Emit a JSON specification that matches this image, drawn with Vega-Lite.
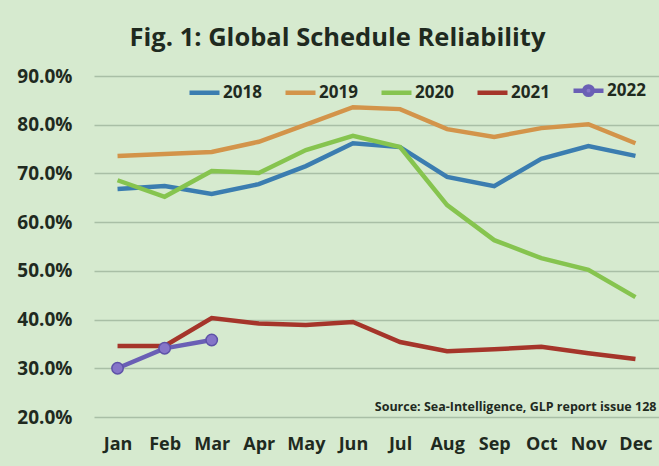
{
  "$schema": "https://vega.github.io/schema/vega-lite/v6.json",
  "width": 565,
  "height": 341,
  "autosize": "none",
  "padding": {"left": 94, "top": 76, "right": 0, "bottom": 49},
  "background": "#d6eacf",
  "title": {
    "text": "Fig. 1: Global Schedule Reliability",
    "font": "Open Sans",
    "fontSize": 25.5,
    "fontWeight": "bold",
    "color": "#1f2a1f",
    "anchor": "middle",
    "dx": -39,
    "offset": 16
  },
  "config": {
    "view": {"stroke": null},
    "font": "Open Sans"
  },
  "data": {
    "values": [
      {"month": "Jan", "year": "2018", "value": 0.668},
      {"month": "Feb", "year": "2018", "value": 0.674},
      {"month": "Mar", "year": "2018", "value": 0.658},
      {"month": "Apr", "year": "2018", "value": 0.678},
      {"month": "May", "year": "2018", "value": 0.715},
      {"month": "Jun", "year": "2018", "value": 0.762},
      {"month": "Jul", "year": "2018", "value": 0.754},
      {"month": "Aug", "year": "2018", "value": 0.693},
      {"month": "Sep", "year": "2018", "value": 0.674},
      {"month": "Oct", "year": "2018", "value": 0.730},
      {"month": "Nov", "year": "2018", "value": 0.756},
      {"month": "Dec", "year": "2018", "value": 0.736},
      {"month": "Jan", "year": "2019", "value": 0.736},
      {"month": "Feb", "year": "2019", "value": 0.740},
      {"month": "Mar", "year": "2019", "value": 0.744},
      {"month": "Apr", "year": "2019", "value": 0.765},
      {"month": "May", "year": "2019", "value": 0.800},
      {"month": "Jun", "year": "2019", "value": 0.836},
      {"month": "Jul", "year": "2019", "value": 0.832},
      {"month": "Aug", "year": "2019", "value": 0.791},
      {"month": "Sep", "year": "2019", "value": 0.775},
      {"month": "Oct", "year": "2019", "value": 0.793},
      {"month": "Nov", "year": "2019", "value": 0.801},
      {"month": "Dec", "year": "2019", "value": 0.762},
      {"month": "Jan", "year": "2020", "value": 0.686},
      {"month": "Feb", "year": "2020", "value": 0.652},
      {"month": "Mar", "year": "2020", "value": 0.705},
      {"month": "Apr", "year": "2020", "value": 0.701},
      {"month": "May", "year": "2020", "value": 0.748},
      {"month": "Jun", "year": "2020", "value": 0.777},
      {"month": "Jul", "year": "2020", "value": 0.754},
      {"month": "Aug", "year": "2020", "value": 0.635},
      {"month": "Sep", "year": "2020", "value": 0.563},
      {"month": "Oct", "year": "2020", "value": 0.526},
      {"month": "Nov", "year": "2020", "value": 0.502},
      {"month": "Dec", "year": "2020", "value": 0.446},
      {"month": "Jan", "year": "2021", "value": 0.346},
      {"month": "Feb", "year": "2021", "value": 0.346},
      {"month": "Mar", "year": "2021", "value": 0.403},
      {"month": "Apr", "year": "2021", "value": 0.392},
      {"month": "May", "year": "2021", "value": 0.389},
      {"month": "Jun", "year": "2021", "value": 0.395},
      {"month": "Jul", "year": "2021", "value": 0.354},
      {"month": "Aug", "year": "2021", "value": 0.335},
      {"month": "Sep", "year": "2021", "value": 0.339},
      {"month": "Oct", "year": "2021", "value": 0.344},
      {"month": "Nov", "year": "2021", "value": 0.331},
      {"month": "Dec", "year": "2021", "value": 0.319},
      {"month": "Jan", "year": "2022", "value": 0.300},
      {"month": "Feb", "year": "2022", "value": 0.341},
      {"month": "Mar", "year": "2022", "value": 0.358}
    ]
  },
  "encoding": {
    "x": {
      "field": "month",
      "type": "ordinal",
      "sort": ["Jan","Feb","Mar","Apr","May","Jun","Jul","Aug","Sep","Oct","Nov","Dec"],
      "scale": {"type": "point", "padding": 0.5},
      "axis": {
        "title": null,
        "labelAngle": 0,
        "labelFont": "Open Sans",
        "labelFontSize": 18,
        "labelFontWeight": "bold",
        "labelColor": "#1f2a1f",
        "labelPadding": 18,
        "domain": false,
        "ticks": false,
        "grid": false
      }
    },
    "y": {
      "field": "value",
      "type": "quantitative",
      "scale": {"domain": [0.2, 0.9], "nice": false, "zero": false},
      "axis": {
        "title": null,
        "values": [0.2, 0.3, 0.4, 0.5, 0.6, 0.7, 0.8, 0.9],
        "format": ".1%",
        "labelFont": "Open Sans",
        "labelFontSize": 19,
        "labelFontWeight": "bold",
        "labelColor": "#1f2a1f",
        "labelPadding": 22,
        "domain": false,
        "ticks": false,
        "grid": true,
        "gridColor": "#a9bfa6",
        "gridWidth": 1.5
      }
    }
  },
  "layer": [
    {
      "mark": {"type": "line", "strokeWidth": 4.5},
      "encoding": {
        "color": {
          "field": "year",
          "type": "nominal",
          "scale": {
            "domain": ["2018", "2019", "2020", "2021", "2022"],
            "range": ["#3b7db0", "#d3944a", "#86c44f", "#a5352a", "#6a5fb5"]
          },
          "legend": {
            "title": null,
            "orient": "none",
            "legendX": 93,
            "legendY": -3,
            "direction": "horizontal",
            "columns": 5,
            "symbolSize": 900,
            "symbolStrokeWidth": 4.5,
            "symbolType": "stroke",
            "labelFont": "Open Sans",
            "labelFontSize": 17,
            "labelFontWeight": "bold",
            "labelColor": "#1f2a1f",
            "labelOffset": 1,
            "columnPadding": 14,
            "encode": {
              "symbols": {
                "update": {
                  "shape": {"signal": "datum.value == '2022' ? 'M-1,0H-0.28M0.28,0H1M0.28,0A0.28,0.28,0,1,1,-0.28,0A0.28,0.28,0,1,1,0.28,0' : 'M-1,0H1'"},
                  "fill": {"signal": "datum.value == '2022' ? '#8575c8' : 'transparent'"}
                }
              }
            }
          }
        }
      }
    },
    {
      "transform": [{"filter": "datum.year == '2022'"}],
      "mark": {"type": "point", "filled": true, "size": 130, "color": "#8575c8", "stroke": "#5e52a8", "strokeWidth": 1.5, "opacity": 1}
    },
    {
      "data": {"values": [{"label": "Source: Sea-Intelligence, GLP report issue 128", "month": "Dec", "value": 0.22}]},
      "mark": {"type": "text", "align": "right", "baseline": "middle", "dx": 21, "font": "Open Sans", "fontSize": 12.5, "fontWeight": "bold", "color": "#1f2a1f"},
      "encoding": {
        "text": {"field": "label"}
      }
    }
  ]
}
